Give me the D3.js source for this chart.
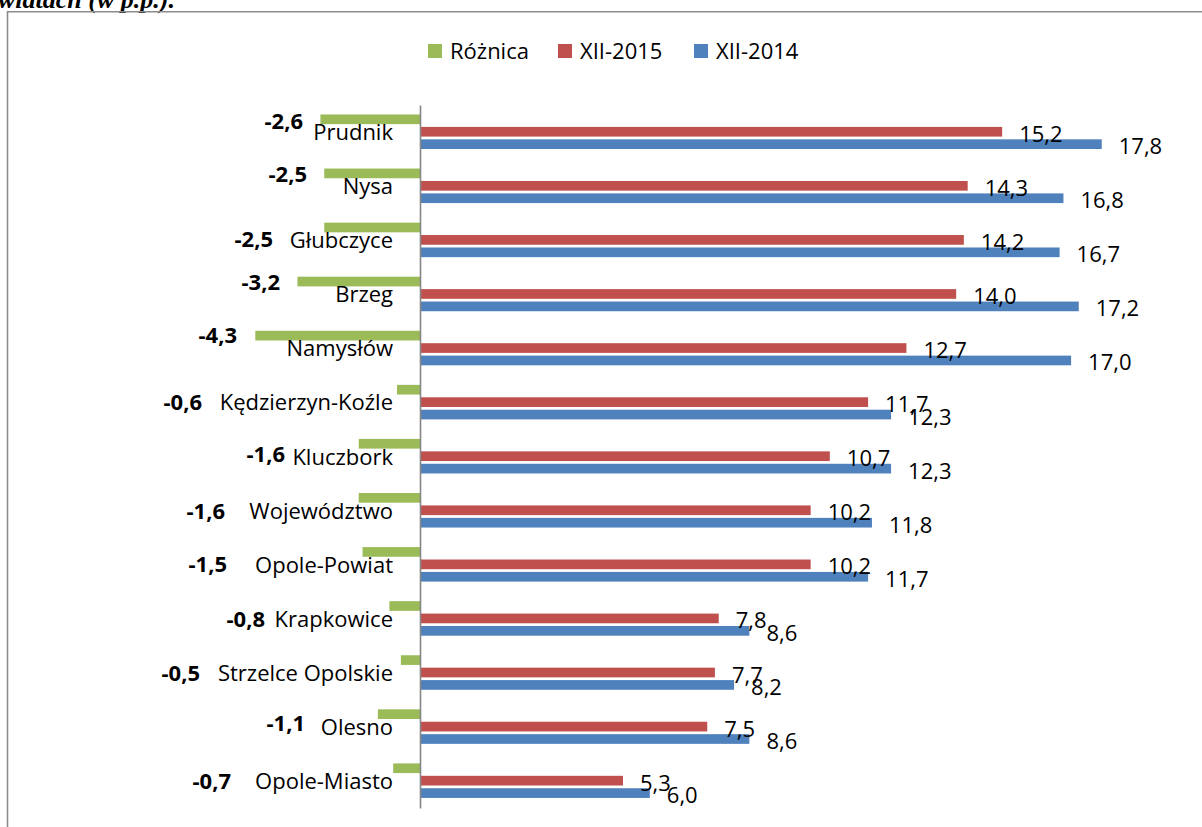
<!DOCTYPE html>
<html>
<head>
<meta charset="utf-8">
<script src="https://cdn.jsdelivr.net/npm/d3@7"></script>
<style>
  html, body { margin: 0; padding: 0; background: #fff; overflow: hidden; }
  svg { display: block; }
</style>
</head>
<body>
<svg id="chart" width="1202" height="827"></svg>
<script>
// ---- data ----
const categories = ["Prudnik","Nysa","Głubczyce","Brzeg","Namysłów","Kędzierzyn-Koźle","Kluczbork","Województwo","Opole-Powiat","Krapkowice","Strzelce Opolskie","Olesno","Opole-Miasto"];
const xii2014 = [17.8,16.8,16.7,17.2,17.0,12.3,12.3,11.8,11.7,8.6,8.2,8.6,6.0];
const xii2015 = [15.2,14.3,14.2,14.0,12.7,11.7,10.7,10.2,10.2,7.8,7.7,7.5,5.3];
const roznica = [-2.6,-2.5,-2.5,-3.2,-4.3,-0.6,-1.6,-1.6,-1.5,-0.8,-0.5,-1.1,-0.7];
const seriesNames = ["Różnica","XII-2015","XII-2014"];

// ---- layout (manually placed difference labels, as in the original) ----
const diffLabelRight = [303,307,273,280,237,202,285,225,227,265,200,305,231];
const diffLabelDy    = [-2.7,-4.3,6.7,-4,-5,8,5.7,8,7,8,8,4,8];

const colors = ["#9BBB59","#C0504D","#4F81BD"];
const FONT = "'Open Sans', sans-serif";
const svg = d3.select("#chart");

// partial caption (cut off at top)
svg.append("text").attr("x", -2).attr("y", 7.5)
  .attr("font-family", "'Liberation Serif', 'Times New Roman', serif")
  .attr("font-weight", "bold").attr("font-style", "italic")
  .attr("font-size", 26).attr("fill", "#000")
  .text("wiatach (w p.p.).");

// frame
svg.append("path").attr("d", "M7.5,840 L7.5,11.8 L1210,11.8")
  .attr("fill", "none").attr("stroke", "#8c8c8c").attr("stroke-width", 1.6);

const x0 = 420, pxPerUnit = 38.3;
const x = d3.scaleLinear().domain([-5, 20]).range([x0 - 5*pxPerUnit, x0 + 20*pxPerUnit]);
const y = d3.scaleBand().domain(categories).range([105, 808]).padding(0);
const slot = d3.scaleBand().domain(seriesNames).range([-20.3, 19.7]).padding(0.22);

const series = [roznica, xii2015, xii2014];
const g = svg.append("g");

series.forEach((vals, si) => {
  g.selectAll(null).data(vals).enter().append("rect")
    .attr("x", d => Math.min(x(0), x(d)))
    .attr("width", d => Math.abs(x(d) - x(0)))
    .attr("y", (d, i) => y(categories[i]) + y.bandwidth()/2 + slot(seriesNames[si]))
    .attr("height", slot.bandwidth())
    .attr("fill", colors[si]);
});

// axis line
svg.append("g").attr("transform", `translate(${x(0)},0)`)
  .call(d3.axisLeft(y).tickSize(0).tickFormat(""))
  .call(s => s.select(".domain").attr("stroke", "#868686").attr("stroke-width", 1.6));

// category labels
g.selectAll(null).data(categories).enter().append("text")
  .attr("x", 393)
  .attr("y", d => y(d) + y.bandwidth()/2 + 8)
  .attr("text-anchor", "end")
  .attr("font-family", FONT).attr("font-size", 22).attr("fill", "#000")
  .text(d => d);

const fmt = v => d3.format(".1f")(v).replace(".", ",").replace("−", "-");

// value labels for XII-2015 and XII-2014
[1, 2].forEach(si => {
  g.selectAll(null).data(series[si]).enter().append("text")
    .attr("x", d => x(d) + 17)
    .attr("y", (d, i) => y(categories[i]) + y.bandwidth()/2 + slot(seriesNames[si]) + slot.bandwidth()/2 + 10)
    .attr("font-family", FONT).attr("font-size", 22).attr("fill", "#000")
    .text(d => fmt(d));
});

// difference labels (bold)
g.selectAll(null).data(roznica).enter().append("text")
  .attr("x", (d, i) => diffLabelRight[i])
  .attr("y", (d, i) => y(categories[i]) + y.bandwidth()/2 + diffLabelDy[i])
  .attr("text-anchor", "end")
  .attr("font-family", FONT).attr("font-weight", "bold").attr("font-size", 22).attr("fill", "#000")
  .text(d => fmt(d));

// legend
const legendX = [428, 558, 694];
const leg = svg.append("g");
seriesNames.forEach((n, i) => {
  leg.append("rect").attr("x", legendX[i]).attr("y", 44).attr("width", 14).attr("height", 14).attr("fill", colors[i]);
  leg.append("text").attr("x", legendX[i] + 22).attr("y", 59)
    .attr("font-family", FONT).attr("font-size", 22).attr("fill", "#000").text(n);
});
</script>
</body>
</html>
